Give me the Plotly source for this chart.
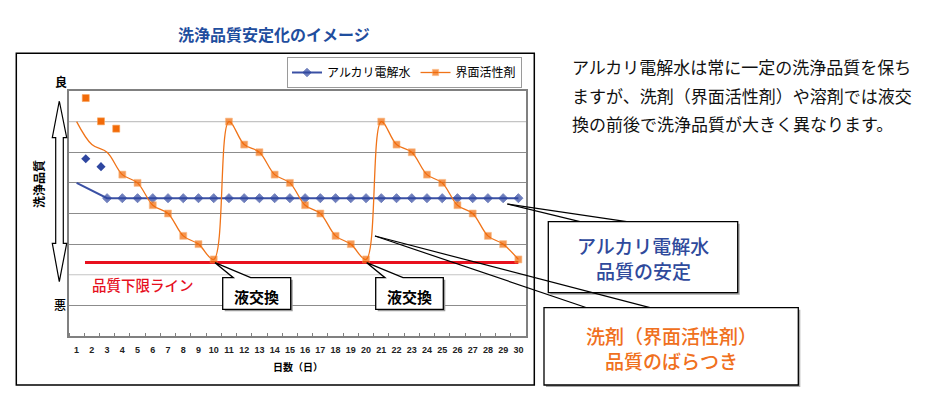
import plotly.graph_objects as go

# ---------------- data ----------------
days = list(range(1, 31))
day_labels = [str(d) for d in days]

alkaline_quality = [5.0, 4.75, 4.5, 4.5, 4.5, 4.5, 4.5, 4.5, 4.5, 4.5,
                    4.5, 4.5, 4.5, 4.5, 4.5, 4.5, 4.5, 4.5, 4.5, 4.5,
                    4.5, 4.5, 4.5, 4.5, 4.5, 4.5, 4.5, 4.5, 4.5, 4.5]
surfactant_quality = [7.0, 6.25, 6.0, 5.27, 5.0, 4.27, 4.0, 3.27, 3.0, 2.5,
                      7.0, 6.25, 6.0, 5.27, 5.0, 4.27, 4.0, 3.27, 3.0, 2.5,
                      7.0, 6.25, 6.0, 5.27, 5.0, 4.27, 4.0, 3.27, 3.0, 2.5]
alkaline_no_marker_days = [1, 2]
surfactant_no_marker_days = [1, 2, 3]
alkaline_extra_x = [1.6, 2.6]
alkaline_extra_y = [5.79, 5.53]
surfactant_extra_x = [1.6, 2.6, 3.6]
surfactant_extra_y = [7.77, 7.01, 6.77]
lower_limit = 2.4
dark_grid_vals = [1, 3, 4, 5, 6]
light_grid_vals = [2, 7]

series_names = ["アルカリ電解水", "界面活性剤"]
title_text = "洗浄品質安定化のイメージ"
desc_lines = ["アルカリ電解水は常に一定の洗浄品質を保ち",
              "ますが、洗剤（界面活性剤）や溶剤では液交",
              "換の前後で洗浄品質が大きく異なります。"]

# ---------------- geometry helpers ----------------
# the page body has an 8px default margin, so the figure is 8px smaller
BODY = 8
W_FIG, H_FIG = 950 - BODY, 404 - BODY
L, R, T, B = 69, 526, 91, 336          # plot area in page pixels
PW, PH = R - L, B - T


def px(x):
    return (x - L) / PW


def py(y):
    return (B - y) / PH


def path(points):
    s = "M " + " L ".join(f"{px(x):.5f},{py(y):.5f}" for x, y in points)
    return s + " Z"


FONT = "Noto Sans CJK JP, sans-serif"
BLUE = "#3a50a4"
ORANGE = "#f07318"

fig = go.Figure()

# alkaline
alk_sizes = [0 if d in alkaline_no_marker_days else 7 for d in days]
fig.add_trace(go.Scatter(
    x=days, y=alkaline_quality, name=series_names[0], mode="lines+markers",
    line=dict(color=BLUE, width=2),
    marker=dict(symbol="diamond", size=alk_sizes, color="#2e46a0"),
    legendgroup="a"))
fig.add_trace(go.Scatter(
    x=alkaline_extra_x, y=alkaline_extra_y, mode="markers", showlegend=False,
    marker=dict(symbol="diamond", size=7, color="#2e46a0"), legendgroup="a"))

# surfactant
sur_sizes = [0 if d in surfactant_no_marker_days else 7 for d in days]
fig.add_trace(go.Scatter(
    x=days, y=surfactant_quality, name=series_names[1], mode="lines+markers",
    line=dict(color=ORANGE, width=1.3, shape="spline", smoothing=1),
    marker=dict(symbol="square", size=sur_sizes, color="#f26a08",
                line=dict(color="#f8a45c", width=0.6)),
    legendgroup="s"))
fig.add_trace(go.Scatter(
    x=surfactant_extra_x, y=surfactant_extra_y, mode="markers", showlegend=False,
    marker=dict(symbol="square", size=7, color="#f26a08",
                line=dict(color="#f8a45c", width=0.6)), legendgroup="s"))

shapes = []
for v in light_grid_vals:
    shapes.append(dict(type="line", xref="paper", yref="y", x0=0, x1=1, y0=v, y1=v,
                       line=dict(color="#c4c4c4", width=1.2), layer="between"))
shapes.append(dict(type="line", xref="x", yref="y", x0=1.55, x1=30,
                   y0=lower_limit, y1=lower_limit,
                   line=dict(color="#e8101e", width=3), layer="between"))

# outer chart border
shapes.append(dict(type="rect", xref="paper", yref="paper",
                   x0=px(16.3), x1=px(534.3), y0=py(385), y1=py(53.3),
                   line=dict(color="black", width=1.5), layer="above"))

# double arrow on the y side
arrow_pts = [(59.3, 101), (66.7, 137.7), (63.3, 137.7), (63.3, 243.3), (66.7, 243.3),
             (59.3, 281.7), (52.3, 243.3), (55.7, 243.3), (55.7, 137.7), (52.3, 137.7)]
shapes.append(dict(type="path", xref="paper", yref="paper", path=path(arrow_pts),
                   fillcolor="white", line=dict(color="black", width=1.2), layer="above"))


def callout_small(x0, x1, y0, y1, tip, b1, b2):
    shapes.append(dict(type="rect", xref="paper", yref="paper",
                       x0=px(x0 + 2), x1=px(x1 + 2), y0=py(y1 + 2), y1=py(y0 + 2),
                       fillcolor="#9a9a9a", line=dict(width=0), layer="above"))
    pts = [tip, (b2, y0), (x1, y0), (x1, y1), (x0, y1), (x0, y0), (b1, y0)]
    shapes.append(dict(type="path", xref="paper", yref="paper", path=path(pts),
                       fillcolor="white", line=dict(color="black", width=1.3),
                       layer="above"))


callout_small(222.7, 290.7, 277.7, 309.3, (215, 262.7), 233.3, 250.7)
callout_small(375.7, 443.3, 277.7, 309.3, (366.7, 262.7), 385.0, 403.0)


def callout_big(x0, x1, y0, y1, tip, b1, b2):
    for bx in (b1, b2):
        shapes.append(dict(type="line", xref="paper", yref="paper",
                           x0=px(tip[0]), y0=py(tip[1]), x1=px(bx), y1=py(y0),
                           line=dict(color="black", width=1.2), layer="above"))
    shapes.append(dict(type="rect", xref="paper", yref="paper",
                       x0=px(x0 + 2), x1=px(x1 + 2), y0=py(y1 + 2), y1=py(y0 + 2),
                       fillcolor="#a8a8a8", line=dict(width=0), layer="above"))
    shapes.append(dict(type="rect", xref="paper", yref="paper",
                       x0=px(x0), x1=px(x1), y0=py(y1), y1=py(y0),
                       fillcolor="white", line=dict(color="black", width=1.3),
                       layer="above"))


callout_big(548.3, 737.7, 221.7, 292.7, (507.3, 204), 580, 626.7)
callout_big(544, 798.3, 307.7, 385, (375, 236), 586.7, 650)

annotations = []


def text(x, y, s, size, color="black", weight="normal", xanchor="center", angle=0):
    annotations.append(dict(xref="paper", yref="paper", x=px(x), y=py(y), text=s,
                            showarrow=False, xanchor=xanchor, yanchor="middle",
                            textangle=angle,
                            font=dict(family=FONT, size=size, color=color,
                                      weight=weight)))


text(274, 34, title_text, 16, "#1f4e9e", "bold")
text(61, 81.7, "良", 12, "black", "bold")
text(60, 304, "悪", 12, "black", 500)
text(38, 184, "洗浄品質", 12, "black", "bold", angle=-90)
text(297.5, 366, "日数（日）", 10, "black", "bold")
text(142.8, 284.5, "品質下限ライン", 14.5, "#e60f1e", 500)
text(256.5, 296, "液交換", 15, "black", "bold")
text(409.5, 296, "液交換", 15, "black", "bold")
text(643, 245, series_names[0], 19, "#2f4a9c", 500)
text(643, 270, "品質の安定", 19, "#2f4a9c", 500)
text(671, 335, "洗剤（界面活性剤）", 19, "#f07020", 500)
text(671, 360, "品質のばらつき", 19, "#f07020", 500)
for yy, line in zip([67, 95, 123], desc_lines):
    text(570, yy, line, 17, "#111111", xanchor="left")

fig.update_layout(
    width=W_FIG, height=H_FIG,
    margin=dict(l=L - BODY, r=W_FIG - (R - BODY), t=T - BODY, b=H_FIG - (B - BODY), pad=0),
    paper_bgcolor="white", plot_bgcolor="white",
    font=dict(family=FONT),
    shapes=shapes, annotations=annotations,
    showlegend=True,
    legend=dict(orientation="h", x=px(287), y=py(72.5), xanchor="left", yanchor="middle",
                bordercolor="#9a9a9a", borderwidth=1, bgcolor="white",
                font=dict(family=FONT, size=12, color="black"),
                itemwidth=30, tracegroupgap=0),
    xaxis=dict(range=[0.5, 30.5], tickmode="array", tickvals=days, ticktext=day_labels,
               ticks="", showgrid=False, zeroline=False,
               showline=True, mirror=True, linecolor="#808080", linewidth=2,
               tickfont=dict(family="Liberation Sans, Arial, sans-serif", size=9,
                             color="#222222", weight="bold"),
               ticklabelstandoff=4,
               minor=dict(tickmode="linear", tick0=0.5, dtick=1, ticks="inside",
                          ticklen=3, tickcolor="#808080", tickwidth=1, showgrid=False)),
    yaxis=dict(range=[0, 8], tickmode="array", tickvals=dark_grid_vals,
               showticklabels=False, ticks="", showgrid=True, gridcolor="#8c8c8c",
               gridwidth=1, zeroline=False, showline=True, mirror=True,
               linecolor="#808080", linewidth=2),
)

fig.write_html("out.html")
